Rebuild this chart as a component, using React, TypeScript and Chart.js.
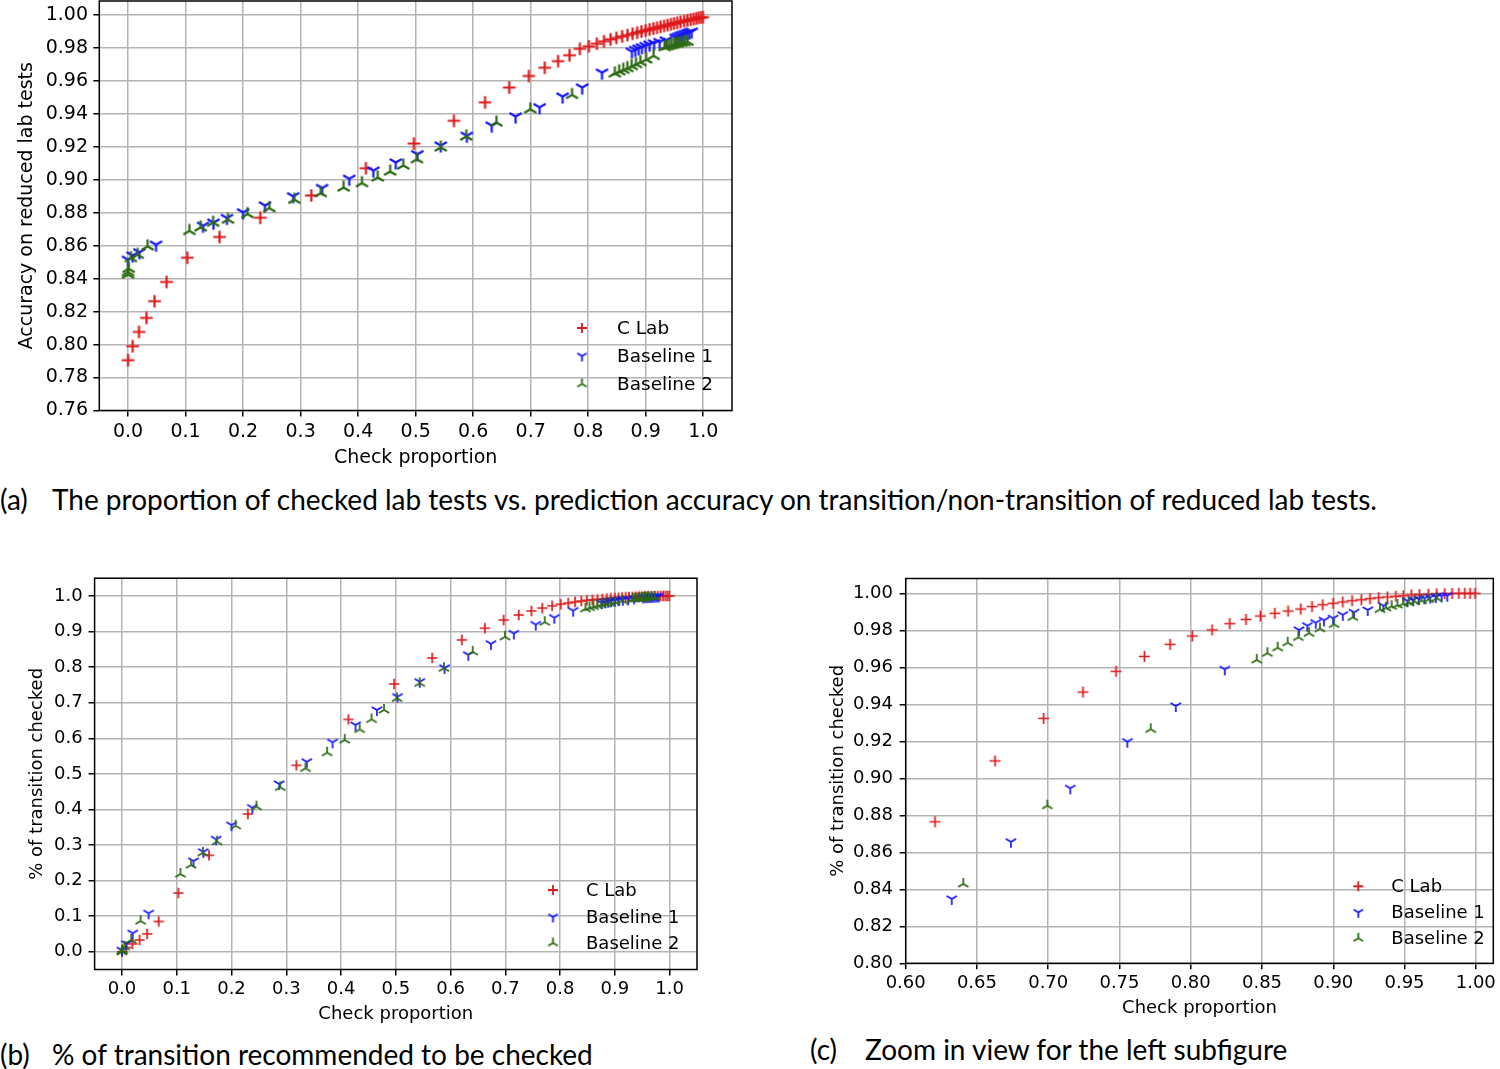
import React, { useEffect, useRef } from "react";
import { Chart, registerables } from "chart.js";

Chart.register(...registerables);

// ---------------- DATA ----------------
const seriesNames = ["C Lab", "Baseline 1", "Baseline 2"];

// C Lab
const cLabX = [0.0, 0.008, 0.019, 0.032, 0.046, 0.067, 0.103, 0.159, 0.2298, 0.3185, 0.4135, 0.497, 0.5665, 0.6206, 0.6627, 0.6968, 0.7244, 0.7476, 0.7675, 0.7855, 0.8011, 0.815, 0.8274, 0.8388, 0.8489, 0.859, 0.8683, 0.8772, 0.8851, 0.8926, 0.8999, 0.9067, 0.9132, 0.9197, 0.9258, 0.9319, 0.938, 0.9439, 0.9492, 0.9548, 0.9604, 0.9667, 0.9726, 0.9782, 0.9834, 0.9881, 0.9923, 0.996, 0.9995];
const cLabAcc = [0.7905, 0.799, 0.8077, 0.8162, 0.8263, 0.838, 0.8527, 0.8653, 0.877, 0.8905, 0.907, 0.922, 0.9358, 0.947, 0.956, 0.963, 0.968, 0.972, 0.9756, 0.9795, 0.981, 0.9826, 0.984, 0.9852, 0.9861, 0.987, 0.9878, 0.9886, 0.9893, 0.99, 0.9906, 0.9912, 0.9918, 0.9923, 0.9929, 0.9934, 0.9939, 0.9944, 0.9949, 0.9953, 0.9958, 0.9963, 0.9968, 0.9972, 0.9976, 0.998, 0.9983, 0.9985, 0.9987];
const cLabTrans = [0.0, 0.012, 0.022, 0.033, 0.05, 0.085, 0.165, 0.271, 0.387, 0.524, 0.653, 0.7526, 0.8257, 0.8765, 0.9094, 0.9324, 0.9466, 0.9578, 0.9659, 0.9724, 0.9769, 0.9802, 0.9836, 0.9859, 0.9877, 0.9892, 0.9904, 0.9915, 0.9928, 0.9938, 0.9946, 0.9953, 0.996, 0.9965, 0.9971, 0.9976, 0.998, 0.9984, 0.9987, 0.9991, 0.9993, 0.9995, 0.9997, 0.9998, 0.9999, 1.0, 1.0, 1.0, 1.0];

// Baseline 1
const base1X = [0.0, 0.008, 0.0196, 0.0486, 0.1305, 0.1485, 0.172, 0.2, 0.238, 0.287, 0.3375, 0.3845, 0.4265, 0.4655, 0.503, 0.5437, 0.589, 0.6323, 0.6738, 0.7155, 0.7555, 0.7895, 0.8239, 0.876, 0.8818, 0.8877, 0.8935, 0.8999, 0.9067, 0.9146, 0.9242, 0.9352, 0.952, 0.956, 0.96, 0.964, 0.968, 0.972, 0.976, 0.98];
const base1Acc = [0.8515, 0.854, 0.856, 0.8606, 0.8721, 0.874, 0.8768, 0.8802, 0.8844, 0.89, 0.895, 0.9006, 0.9056, 0.9105, 0.9155, 0.9208, 0.9267, 0.9329, 0.9384, 0.944, 0.9505, 0.956, 0.965, 0.9778, 0.9788, 0.9796, 0.9804, 0.9812, 0.982, 0.9828, 0.9836, 0.9846, 0.9862, 0.9868, 0.9874, 0.9879, 0.9884, 0.9889, 0.9894, 0.9899];
const base1Trans = [0.004, 0.022, 0.052, 0.108, 0.255, 0.281, 0.316, 0.356, 0.405, 0.4715, 0.534, 0.5887, 0.6374, 0.6795, 0.717, 0.759, 0.798, 0.8348, 0.8657, 0.8946, 0.9198, 0.9391, 0.9589, 0.9802, 0.9825, 0.9841, 0.9854, 0.9865, 0.9884, 0.9897, 0.991, 0.9933, 0.996, 0.9965, 0.9969, 0.9973, 0.9977, 0.9981, 0.9984, 0.9987];

// Baseline 2
const base2X = [0.0, 0.0, 0.001, 0.005, 0.0167, 0.034, 0.1067, 0.1262, 0.1478, 0.1737, 0.2076, 0.2456, 0.2892, 0.335, 0.3747, 0.4067, 0.434, 0.4557, 0.4785, 0.5022, 0.5437, 0.588, 0.6404, 0.6994, 0.7719, 0.8463, 0.8538, 0.861, 0.868, 0.8755, 0.883, 0.8907, 0.9006, 0.9137, 0.9328, 0.937, 0.941, 0.945, 0.949, 0.953, 0.957, 0.962, 0.967, 0.9726];
const base2Acc = [0.8425, 0.844, 0.846, 0.8525, 0.8545, 0.8596, 0.869, 0.8711, 0.874, 0.8758, 0.8792, 0.8828, 0.8879, 0.8919, 0.8953, 0.898, 0.9014, 0.905, 0.9087, 0.9125, 0.9196, 0.9263, 0.9347, 0.9428, 0.9515, 0.9646, 0.9658, 0.9668, 0.9678, 0.969, 0.9702, 0.9714, 0.973, 0.9752, 0.9805, 0.981, 0.9814, 0.9818, 0.9822, 0.9826, 0.9829, 0.9832, 0.9835, 0.9838];
const base2Trans = [0.0, 0.002, 0.004, 0.014, 0.033, 0.086, 0.2184, 0.2437, 0.278, 0.309, 0.354, 0.4077, 0.462, 0.5155, 0.5595, 0.595, 0.625, 0.653, 0.6795, 0.712, 0.7546, 0.797, 0.8429, 0.8852, 0.9265, 0.964, 0.9676, 0.9706, 0.9733, 0.9762, 0.9784, 0.9809, 0.9832, 0.987, 0.9913, 0.9922, 0.993, 0.9937, 0.9944, 0.995, 0.9956, 0.9961, 0.9967, 0.9973];

// tick labels
const ticksProp = [0.0, 0.1, 0.2, 0.3, 0.4, 0.5, 0.6, 0.7, 0.8, 0.9, 1.0];
const ticksAccY = [0.76, 0.78, 0.8, 0.82, 0.84, 0.86, 0.88, 0.9, 0.92, 0.94, 0.96, 0.98, 1.0];
const ticksTransY = [0.0, 0.1, 0.2, 0.3, 0.4, 0.5, 0.6, 0.7, 0.8, 0.9, 1.0];
const ticksZoomX = [0.6, 0.65, 0.7, 0.75, 0.8, 0.85, 0.9, 0.95, 1.0];
const ticksZoomY = [0.8, 0.82, 0.84, 0.86, 0.88, 0.9, 0.92, 0.94, 0.96, 0.98, 1.0];

const captionA = "The proportion of checked lab tests vs. prediction accuracy on transition/non-transition of reduced lab tests.";
const captionB = "% of transition recommended to be checked";
const captionC = "Zoom in view for the left subfigure";

// ---------------- STYLE ----------------
const FONT = "'DejaVu Sans', 'Liberation Sans', sans-serif";
const CAP_FONT = "Lato, 'Open Sans', sans-serif";
const RED = "#de1a1a";
const BLUE = "#1616ff";
const GREEN = "#2c6a12";
const COLORS = [RED, BLUE, GREEN];

function makeMarker(kind: string, color: string, r: number, lw: number) {
  const s = Math.ceil(2 * r + lw * 2 + 2);
  const c = document.createElement("canvas");
  c.width = s;
  c.height = s;
  const g = c.getContext("2d")!;
  const cx = s / 2;
  const cy = s / 2;
  g.strokeStyle = color;
  g.lineWidth = lw;
  g.lineCap = "butt";
  let dirs: number[][];
  if (kind === "plus") dirs = [[1, 0], [-1, 0], [0, 1], [0, -1]];
  else if (kind === "tridown") dirs = [[0, 1], [-0.866, -0.5], [0.866, -0.5]];
  else dirs = [[0, -1], [-0.866, 0.5], [0.866, 0.5]];
  g.beginPath();
  for (const [dx, dy] of dirs) {
    g.moveTo(cx, cy);
    g.lineTo(cx + dx * r, cy + dy * r);
  }
  g.stroke();
  return c;
}

const KINDS = ["plus", "tridown", "triup"];

type Panel = {
  left: number; top: number; w: number; h: number;
  pad: { left: number; top: number; right: number; bottom: number };
  yWidth: number; xHeight: number;
  xMin: number; xMax: number; yMin: number; yMax: number;
  xTicks: number[]; yTicks: number[]; xDec: number; yDec: number;
  ys: number[][];
  yTitle: string; xTitle: string; titleSize: number; tickSize: number;
  yTitlePad: number; xTitlePad: number; xTickPad: number; yTickPad: number;
  crossR: number; triR: number; lw: number;
  legendSize: number;
  legend: { mx: number; tx: number; rows: number[] };
};

const xs = [cLabX, base1X, base2X];

const panels: Panel[] = [
  {
    left: 0, top: 0, w: 760, h: 480,
    pad: { left: 0, top: 1, right: 28, bottom: 0 },
    yWidth: 99.3, xHeight: 69.5,
    xMin: -0.05, xMax: 1.05, yMin: 0.76, yMax: 1.0085,
    xTicks: ticksProp, yTicks: ticksAccY, xDec: 1, yDec: 2,
    ys: [cLabAcc, base1Acc, base2Acc],
    yTitle: "Accuracy on reduced lab tests", xTitle: "Check proportion", titleSize: 19, tickSize: 19,
    yTitlePad: 15.6, xTitlePad: 10.6, xTickPad: 4.4, yTickPad: 5.3,
    crossR: 6.3, triR: 7, lw: 2.2,
    legendSize: 18.5,
    legend: { mx: 150, tx: 115, rows: [82.5, 54.5, 26.5] },
  },
  {
    left: 0, top: 560, w: 720, h: 470,
    pad: { left: 0, top: 18.2, right: 23, bottom: 0 },
    yWidth: 94.6, xHeight: 60.5,
    xMin: -0.05, xMax: 1.05, yMin: -0.05, yMax: 1.05,
    xTicks: ticksProp, yTicks: ticksTransY, xDec: 1, yDec: 1,
    ys: [cLabTrans, base1Trans, base2Trans],
    yTitle: "% of transition checked", xTitle: "Check proportion", titleSize: 18, tickSize: 18,
    yTitlePad: 26.7, xTitlePad: 5.2, xTickPad: 2.7, yTickPad: 6,
    crossR: 5.2, triR: 6, lw: 1.7,
    legendSize: 18,
    legend: { mx: 144, tx: 111, rows: [79.5, 52.5, 26.5] },
  },
  {
    left: 800, top: 560, w: 700, h: 470,
    pad: { left: 0, top: 18.5, right: 6.7, bottom: 0 },
    yWidth: 105.7, xHeight: 66.7,
    xMin: 0.6, xMax: 1.0123, yMin: 0.8, yMax: 1.008,
    xTicks: ticksZoomX, yTicks: ticksZoomY, xDec: 2, yDec: 2,
    ys: [cLabTrans, base1Trans, base2Trans],
    yTitle: "% of transition checked", xTitle: "Check proportion", titleSize: 18, tickSize: 18,
    yTitlePad: 27.2, xTitlePad: 11.2, xTickPad: 2.9, yTickPad: 6.7,
    crossR: 5.5, triR: 6, lw: 1.7,
    legendSize: 18,
    legend: { mx: 135, tx: 102, rows: [77, 51, 25] },
  },
];

function ChartPanel({ p }: { p: Panel }) {
  const ref = useRef<HTMLCanvasElement | null>(null);
  useEffect(() => {
    const canvas = ref.current;
    if (!canvas) return;
    const markers = KINDS.map((k, i) =>
      makeMarker(k, COLORS[i], k === "plus" ? p.crossR : p.triR, p.lw)
    );
    const legendMarkers = KINDS.map((k, i) =>
      makeMarker(k, COLORS[i], k === "plus" ? 5 : 5.5, 1.8)
    );

    const framePlugin = {
      id: "frame",
      afterDatasetsDraw(chart: any) {
        const { ctx, chartArea: a } = chart;
        ctx.save();
        ctx.strokeStyle = "#000";
        ctx.lineWidth = 1.5;
        ctx.strokeRect(a.left, a.top, a.right - a.left, a.bottom - a.top);
        ctx.restore();
      },
    };
    const legendPlugin = {
      id: "mplLegend",
      afterDraw(chart: any) {
        const { ctx, chartArea: a } = chart;
        ctx.save();
        ctx.font = `${p.legendSize}px ${FONT}`;
        ctx.fillStyle = "#000";
        ctx.textBaseline = "middle";
        ctx.textAlign = "left";
        seriesNames.forEach((name, i) => {
          const y = a.bottom - p.legend.rows[i];
          const m = legendMarkers[i];
          ctx.drawImage(m, a.right - p.legend.mx - m.width / 2, y - m.height / 2);
          ctx.fillText(name, a.right - p.legend.tx, y + 1);
        });
        ctx.restore();
      },
    };

    const orders = [3, 2, 1];
    const datasets = seriesNames.map((name, i) => ({
      label: name,
      data: xs[i].map((x, j) => ({ x, y: p.ys[i][j] })),
      pointStyle: markers[i],
      pointRadius: 5,
      showLine: false,
      order: orders[i],
    }));

    const tickFont = { family: FONT, size: p.tickSize };
    const titleFont = { family: FONT, size: p.titleSize };

    const chart = new Chart(canvas, {
      type: "scatter",
      data: { datasets },
      options: {
        responsive: false,
        animation: false,
        events: [],
        devicePixelRatio: 1,
        layout: { padding: p.pad, autoPadding: false },
        plugins: { legend: { display: false }, tooltip: { enabled: false } },
        scales: {
          x: {
            type: "linear",
            min: p.xMin,
            max: p.xMax,
            afterBuildTicks: (s: any) => {
              s.ticks = p.xTicks.map((v) => ({ value: v }));
            },
            afterFit: (s: any) => {
              s.height = p.xHeight;
              s.paddingLeft = 0;
              s.paddingRight = 0;
            },
            ticks: {
              callback: (v: any) => Number(v).toFixed(p.xDec),
              font: tickFont,
              color: "#000",
              padding: p.xTickPad,
              maxRotation: 0,
              autoSkip: false,
            },
            grid: { color: "#b4b4b4", lineWidth: 1.5, tickColor: "#000", tickLength: 6, tickWidth: 1.5 },
            border: { display: false },
            title: {
              display: true,
              text: p.xTitle,
              font: titleFont,
              color: "#000",
              padding: { top: 0, bottom: p.xTitlePad },
            },
          },
          y: {
            type: "linear",
            min: p.yMin,
            max: p.yMax,
            afterBuildTicks: (s: any) => {
              s.ticks = p.yTicks.map((v) => ({ value: v }));
            },
            afterFit: (s: any) => {
              s.width = p.yWidth;
              s.paddingTop = 0;
              s.paddingBottom = 0;
            },
            ticks: {
              callback: (v: any) => Number(v).toFixed(p.yDec),
              font: tickFont,
              color: "#000",
              padding: p.yTickPad,
              autoSkip: false,
            },
            grid: { color: "#b4b4b4", lineWidth: 1.5, tickColor: "#000", tickLength: 6, tickWidth: 1.5 },
            border: { display: false },
            title: {
              display: true,
              text: p.yTitle,
              font: titleFont,
              color: "#000",
              padding: { top: p.yTitlePad, bottom: 0 },
            },
          },
        },
      },
      plugins: [framePlugin, legendPlugin],
    } as any);
    return () => chart.destroy();
  }, [p]);
  return (
    <div style={{ position: "absolute", left: p.left, top: p.top, width: p.w, height: p.h }}>
      <canvas ref={ref} width={p.w} height={p.h} style={{ width: p.w, height: p.h, display: "block" }} />
    </div>
  );
}

function Caption({ label, text, left, textLeft, cy }: { label: string; text: string; left: number; textLeft: number; cy: number }) {
  const base: React.CSSProperties = {
    position: "absolute",
    top: cy - 17,
    fontFamily: CAP_FONT,
    fontSize: 28,
    lineHeight: "34px",
    color: "#000",
    whiteSpace: "nowrap",
  };
  return (
    <>
      <div style={{ ...base, left }}>{label}</div>
      <div style={{ ...base, left: textLeft }}>{text}</div>
    </>
  );
}

export default function App() {
  return (
    <div style={{ position: "absolute", left: 0, top: 0, width: 1500, height: 1069, background: "#fff", overflow: "hidden" }}>
      {panels.map((p, i) => (
        <ChartPanel key={i} p={p} />
      ))}
      <Caption label="(a)" text={captionA} left={0} textLeft={52} cy={499} />
      <Caption label="(b)" text={captionB} left={0} textLeft={52} cy={1054} />
      <Caption label="(c)" text={captionC} left={810} textLeft={865} cy={1049} />
    </div>
  );
}
